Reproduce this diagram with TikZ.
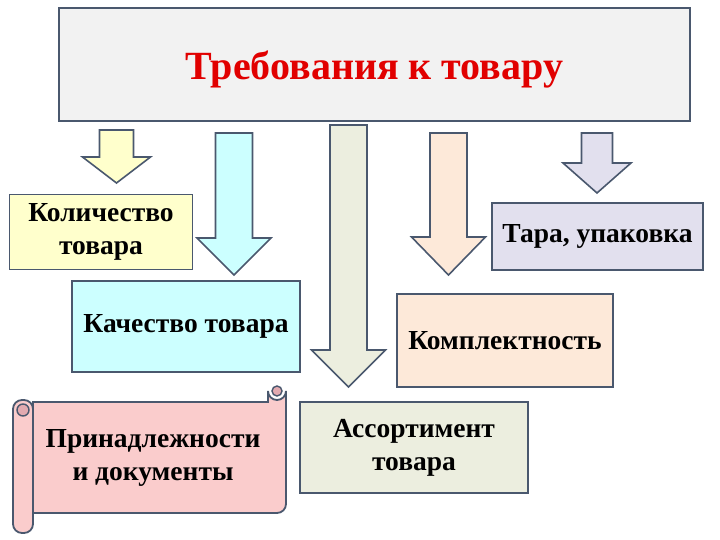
\documentclass[tikz,border=0pt]{standalone}
\usepackage{fontspec}
\setmainfont{Liberation Serif}
\usetikzlibrary{positioning}

\definecolor{edge}{RGB}{74,88,110}
\definecolor{titlered}{RGB}{225,0,0}
\definecolor{topgray}{RGB}{242,242,242}
\definecolor{qtyyellow}{RGB}{255,255,204}
\definecolor{qualcyan}{RGB}{204,255,255}
\definecolor{assortbeige}{RGB}{236,238,223}
\definecolor{setpeach}{RGB}{253,233,217}
\definecolor{packlilac}{RGB}{226,224,238}
\definecolor{scrollpink}{RGB}{250,204,204}
\definecolor{curlpink}{RGB}{226,170,176}

% block arrow: centre x, shaft half width, head half width, top y, head y, tip y, fill
\newcommand{\blockarrow}[7]{%
  \draw[edge, line width=1.6pt, line join=miter, fill=#7]
    (#1-#2,#4) -- (#1+#2,#4) -- (#1+#2,#5) -- (#1+#3,#5) -- (#1,#6)
    -- (#1-#3,#5) -- (#1-#2,#5) -- cycle;}

\begin{document}
\begin{tikzpicture}[x=1pt,y=-1pt,
    box/.style={draw=edge, line width=1.8pt, align=center, inner sep=2pt,
      font=\bfseries\fontsize{27.5}{33}\selectfont}]
    \useasboundingbox (0,0) rectangle (720,540);

    % Title box
    \node[box, fill=topgray, minimum width=631, minimum height=113]
      (req) at (374.5,64.5) {};
    \node[font=\bfseries\fontsize{40}{44}\selectfont, text=titlered]
      (title) at ([yshift=-5pt]req.center) {Требования к товару};

    % Arrows
    \blockarrow{116.5}{17}{34}{130}{157}{183}{qtyyellow}
    \blockarrow{234}{18.5}{37}{133}{238}{275}{qualcyan}
    \blockarrow{348.5}{18.5}{37}{125}{350}{387}{assortbeige}
    \blockarrow{448.5}{18.5}{37}{133}{237}{275}{setpeach}
    \blockarrow{597}{15.5}{34}{133}{163}{193}{packlilac}

    % Boxes
    \node[box, fill=qtyyellow, minimum width=183, minimum height=75]
      (qty) at (101,232) {Количество\\товара};
    \node[box, fill=packlilac, minimum width=211, minimum height=67]
      (pack) at (597.5,236.5) {Тара, упаковка};
    \node[box, fill=qualcyan, minimum width=228, minimum height=91]
      (qual) at (186,326.5) {Качество товара};
    \node[box, fill=setpeach, minimum width=216, minimum height=93]
      (set) at (505,340.5) {Комплектность};
    \node[box, fill=assortbeige, minimum width=228, minimum height=91]
      (assort) at (414,447.5) {Ассортимент\\товара};

    % Scroll
    \draw[edge, line width=1.8pt, fill=scrollpink]
      (33,402) -- (268,402) -- (268,391) arc[start angle=180, end angle=0, radius=9]
      -- (286,504) arc[start angle=0, end angle=90, radius=9] -- (33,513) -- cycle;
    \draw[edge, line width=1.4pt, fill=curlpink]
      (277,391) circle[radius=5];
    \draw[edge, line width=1.8pt, fill=scrollpink, rounded corners=9]
      (13,400) rectangle (33,533);
    \draw[edge, line width=1.4pt, fill=curlpink]
      (23,410) circle[radius=6];
    \node[align=center, font=\bfseries\fontsize{27.5}{33}\selectfont]
      (docs) at (153,458) {Принадлежности\\и документы};
\end{tikzpicture}
\end{document}
